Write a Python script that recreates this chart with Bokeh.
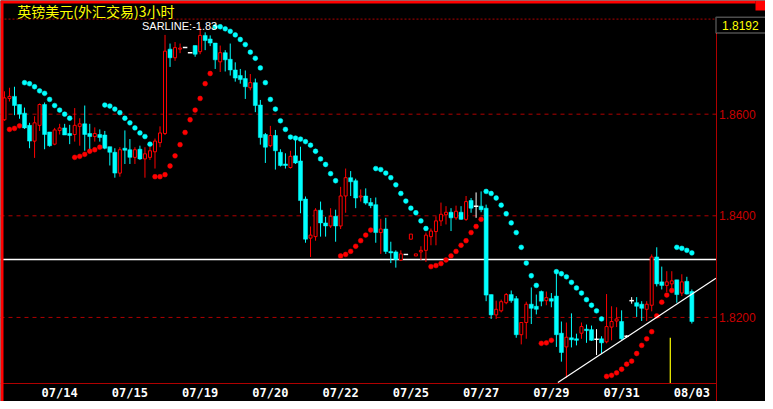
from bokeh.plotting import figure
from bokeh.models import (Range1d, FixedTicker, NumeralTickFormatter, Label,
                          BoxAnnotation, ColumnDataSource)
from bokeh.embed import file_html
from bokeh.resources import INLINE

# ---------------- data (GBP/USD, 3-hour bars) ----------------
opens = [
    1.8589, 1.8631, 1.8635, 1.8619, 1.8602, 1.8578, 1.8547, 1.8578, 1.8619, 1.8565,
    1.8541, 1.8568, 1.8573, 1.8562, 1.8560, 1.8576, 1.8581, 1.8562, 1.8556, 1.8560,
    1.8559, 1.8536, 1.8525, 1.8484, 1.8533, 1.8530, 1.8515, 1.8531, 1.8512, 1.8515,
    1.8526, 1.8544, 1.8562, 1.8728, 1.8711, 1.8728, 1.8731, 1.8721, 1.8735, 1.8723,
    1.8755, 1.8748, 1.8740, 1.8703, 1.8721, 1.8708, 1.8687, 1.8676, 1.8670, 1.8652,
    1.8662, 1.8618, 1.8560, 1.8538, 1.8558, 1.8525, 1.8502, 1.8495, 1.8518, 1.8508,
    1.8433, 1.8356, 1.8359, 1.8411, 1.8386, 1.8380, 1.8399, 1.8380, 1.8439, 1.8475,
    1.8469, 1.8437, 1.8439, 1.8426, 1.8422, 1.8367, 1.8374, 1.8330, 1.8329, 1.8313,
    1.8324, 1.8354, 1.8321, 1.8329, 1.8332, 1.8359, 1.8369, 1.8390, 1.8402, 1.8407,
    1.8396, 1.8407, 1.8393, 1.8430, 1.8419, 1.8419, 1.8415, 1.8245, 1.8205, 1.8213,
    1.8229, 1.8245, 1.8237, 1.8166, 1.8190, 1.8226, 1.8222, 1.8251, 1.8233, 1.8237,
    1.8242, 1.8169, 1.8142, 1.8160, 1.8158, 1.8169, 1.8177, 1.8176, 1.8157, 1.8158,
    1.8152, 1.8181, 1.8193, 1.8192, 1.8163, 1.8233, 1.8229, 1.8226, 1.8216, 1.8224,
    1.8319, 1.8270, 1.8263, 1.8266, 1.8274, 1.8248, 1.8271, 1.8251]
closes = [
    1.8632, 1.8635, 1.8617, 1.8600, 1.8573, 1.8547, 1.8583, 1.8619, 1.8560, 1.8538,
    1.8569, 1.8573, 1.8559, 1.8558, 1.8578, 1.8581, 1.8560, 1.8556, 1.8562, 1.8554,
    1.8533, 1.8525, 1.8484, 1.8530, 1.8529, 1.8515, 1.8530, 1.8512, 1.8522, 1.8528,
    1.8547, 1.8563, 1.8724, 1.8711, 1.8731, 1.8730, 1.8731, 1.8721, 1.8718, 1.8755,
    1.8745, 1.8740, 1.8707, 1.8721, 1.8707, 1.8687, 1.8671, 1.8668, 1.8654, 1.8662,
    1.8617, 1.8554, 1.8535, 1.8558, 1.8528, 1.8499, 1.8499, 1.8517, 1.8504, 1.8430,
    1.8354, 1.8362, 1.8411, 1.8386, 1.8380, 1.8399, 1.8380, 1.8439, 1.8475, 1.8467,
    1.8435, 1.8439, 1.8425, 1.8420, 1.8367, 1.8374, 1.8330, 1.8327, 1.8314, 1.8325,
    1.8324, 1.8364, 1.8325, 1.8332, 1.8362, 1.8370, 1.8390, 1.8403, 1.8407, 1.8396,
    1.8409, 1.8393, 1.8428, 1.8415, 1.8419, 1.8412, 1.8244, 1.8205, 1.8216, 1.8231,
    1.8245, 1.8233, 1.8166, 1.8190, 1.8226, 1.8218, 1.8216, 1.8232, 1.8239, 1.8232,
    1.8166, 1.8131, 1.8161, 1.8156, 1.8155, 1.8182, 1.8174, 1.8155, 1.8157, 1.8150,
    1.8182, 1.8192, 1.8197, 1.8158, 1.8163, 1.8233, 1.8222, 1.8218, 1.8226, 1.8319,
    1.8266, 1.8263, 1.8270, 1.8272, 1.8245, 1.8270, 1.8246, 1.8192]
highs = [
    1.8645, 1.8652, 1.8654, 1.8619, 1.8613, 1.8583, 1.8596, 1.8621, 1.8623, 1.8565,
    1.8573, 1.8581, 1.8581, 1.8579, 1.8612, 1.8592, 1.8617, 1.8581, 1.8574, 1.8570,
    1.8567, 1.8536, 1.8533, 1.8535, 1.8568, 1.8551, 1.8535, 1.8538, 1.8535, 1.8536,
    1.8552, 1.8576, 1.8756, 1.8739, 1.8742, 1.8739, 1.8731, 1.8721, 1.8735, 1.8771,
    1.8761, 1.8755, 1.8740, 1.8735, 1.8726, 1.8739, 1.8702, 1.8689, 1.8686, 1.8679,
    1.8670, 1.8628, 1.8563, 1.8577, 1.8569, 1.8531, 1.8523, 1.8528, 1.8551, 1.8536,
    1.8438, 1.8379, 1.8415, 1.8428, 1.8398, 1.8415, 1.8412, 1.8457, 1.8493, 1.8488,
    1.8473, 1.8452, 1.8454, 1.8435, 1.8436, 1.8394, 1.8396, 1.8349, 1.8332, 1.8332,
    1.8324, 1.8364, 1.8325, 1.8340, 1.8367, 1.8375, 1.8399, 1.8426, 1.8419, 1.8415,
    1.8420, 1.8419, 1.8439, 1.8435, 1.8446, 1.8448, 1.8422, 1.8245, 1.8233, 1.8235,
    1.8248, 1.8253, 1.8242, 1.8190, 1.8231, 1.8259, 1.8245, 1.8253, 1.8251, 1.8248,
    1.8291, 1.8192, 1.8190, 1.8208, 1.8168, 1.8190, 1.8186, 1.8184, 1.8177, 1.8163,
    1.8246, 1.8222, 1.8220, 1.8214, 1.8165, 1.8240, 1.8240, 1.8232, 1.8232, 1.8324,
    1.8338, 1.8300, 1.8291, 1.8291, 1.8274, 1.8285, 1.8280, 1.8255]
lows = [
    1.8587, 1.8625, 1.8598, 1.8591, 1.8571, 1.8533, 1.8514, 1.8567, 1.8531, 1.8536,
    1.8539, 1.8560, 1.8559, 1.8541, 1.8546, 1.8538, 1.8528, 1.8528, 1.8546, 1.8546,
    1.8531, 1.8499, 1.8475, 1.8477, 1.8502, 1.8502, 1.8502, 1.8510, 1.8475, 1.8510,
    1.8493, 1.8535, 1.8559, 1.8693, 1.8705, 1.8720, 1.8731, 1.8721, 1.8713, 1.8718,
    1.8726, 1.8734, 1.8689, 1.8683, 1.8684, 1.8676, 1.8664, 1.8660, 1.8630, 1.8647,
    1.8604, 1.8540, 1.8504, 1.8535, 1.8491, 1.8497, 1.8493, 1.8493, 1.8502, 1.8405,
    1.8347, 1.8319, 1.8351, 1.8359, 1.8359, 1.8376, 1.8349, 1.8374, 1.8406, 1.8439,
    1.8415, 1.8428, 1.8422, 1.8415, 1.8347, 1.8325, 1.8325, 1.8307, 1.8298, 1.8311,
    1.8324, 1.8354, 1.8321, 1.8313, 1.8309, 1.8342, 1.8342, 1.8380, 1.8383, 1.8370,
    1.8392, 1.8392, 1.8390, 1.8406, 1.8396, 1.8407, 1.8232, 1.8197, 1.8197, 1.8210,
    1.8226, 1.8229, 1.8160, 1.8147, 1.8158, 1.8187, 1.8206, 1.8222, 1.8224, 1.8220,
    1.8142, 1.8113, 1.8081, 1.8141, 1.8145, 1.8158, 1.8150, 1.8154, 1.8126, 1.8129,
    1.8149, 1.8155, 1.8181, 1.8156, 1.8160, 1.8227, 1.8201, 1.8193, 1.8193, 1.8212,
    1.8261, 1.8255, 1.8250, 1.8258, 1.8229, 1.8242, 1.8245, 1.8188]
sar = [
    None,   1.8570, 1.8572, 1.8577, 1.8662, 1.8660, 1.8654, 1.8646, 1.8641, 1.8629,
    1.8617, 1.8608, 1.8600, 1.8592, 1.8515, 1.8517, 1.8521, 1.8527, 1.8530, 1.8535,
    1.8618, 1.8616, 1.8610, 1.8603, 1.8592, 1.8583, 1.8573, 1.8563, 1.8556, 1.8541,
    1.8477, 1.8477, 1.8481, 1.8498, 1.8518, 1.8540, 1.8564, 1.8589, 1.8608, 1.8631,
    1.8660, 1.8680, 1.8772, 1.8772, 1.8768, 1.8763, 1.8756, 1.8747, 1.8737, 1.8722,
    1.8710, 1.8691, 1.8662, 1.8629, 1.8610, 1.8587, 1.8570, 1.8555, 1.8553, 1.8551,
    1.8546, 1.8539, 1.8527, 1.8512, 1.8501, 1.8483, 1.8469, 1.8321, 1.8324, 1.8330,
    1.8340, 1.8351, 1.8362, 1.8372, 1.8493, 1.8491, 1.8484, 1.8475, 1.8461, 1.8444,
    1.8429, 1.8415, 1.8406, 1.8390, 1.8375, 1.8300, 1.8302, 1.8306, 1.8313, 1.8321,
    1.8330, 1.8342, 1.8351, 1.8367, 1.8379, 1.8393, 1.8448, 1.8444, 1.8435, 1.8421,
    1.8404, 1.8386, 1.8367, 1.8338, 1.8307, 1.8282, 1.8263, 1.8149, 1.8150, 1.8155,
    1.8290, 1.8286, 1.8280, 1.8269, 1.8258, 1.8248, 1.8235, 1.8224, 1.8213, 1.8197,
    1.8084, 1.8086, 1.8091, 1.8098, 1.8108, 1.8114, 1.8129, 1.8145, 1.8158, 1.8172,
    1.8203, 1.8230, 1.8244, 1.8253, 1.8338, 1.8336, 1.8332, 1.8327]
date_labels = ["07/14", "07/15", "07/19", "07/20", "07/22",
               "07/25", "07/27", "07/29", "07/31", "08/03"]
grid_levels = [1.82, 1.84, 1.86]
ref_level = 1.8314                 # white horizontal line
trend_x = [110.3, 141.8]           # white trend line (bar index, price)
trend_y = [1.8072, 1.8277]
marker_x = 132.7                   # yellow vertical marker
marker_top = 1.8160
sar_value_text = "SARLINE:-1.83"
title_text = "英镑美元(外汇交易)3小时"

# ---------------- layout (the frame covers the whole canvas) ----------------
W, H = 765, 401
BAR_PX = 5.0175                    # pixels per bar
FIRST_BAR_PX = 3.96                # x pixel of bar 0
CHART_RIGHT_PX = 715.5             # right edge of the chart area
CHART_TOP_PX, CHART_BOTTOM_PX = 18.6, 383.3
Y_TOP, Y_MIN = 1.87871, 1.80694    # prices at the chart top / bottom
PPX = (Y_TOP - Y_MIN) / (CHART_BOTTOM_PX - CHART_TOP_PX)
X0 = -FIRST_BAR_PX / BAR_PX
X1 = X0 + W / BAR_PX
X_RIGHT = X0 + CHART_RIGHT_PX / BAR_PX
Y1 = Y_TOP + CHART_TOP_PX * PPX
Y0 = Y_MIN - (H - CHART_BOTTOM_PX) * PPX

DARK_RED = "#B00000"
RED = "#FF0000"
CYAN = "#00FFFF"
YELLOW = "#FFFF00"

n = len(opens)
xs = list(range(n))

p = figure(width=W, height=H, frame_width=W, frame_height=H,
           output_backend="svg", toolbar_location=None,
           x_range=Range1d(X0, X1), y_range=Range1d(Y0, Y1),
           y_axis_location="right",
           background_fill_color="black", border_fill_color="black",
           min_border_left=0, min_border_right=0,
           min_border_top=0, min_border_bottom=0)
p.outline_line_color = None
p.xgrid.visible = False
p.ygrid.visible = False

# right price axis, drawn at the chart's right edge
ya = p.yaxis[0]
ya.fixed_location = X_RIGHT
ya.bounds = (Y0, Y_TOP)
ya.ticker = FixedTicker(ticks=grid_levels)
ya.formatter = NumeralTickFormatter(format="0.0000")
ya.major_label_text_color = "#C80000"
ya.major_label_text_font = "Liberation Sans"
ya.major_label_text_font_size = "12px"
ya.major_tick_line_color = None
ya.major_tick_out = 0
ya.major_tick_in = 0
ya.minor_tick_line_color = None
ya.minor_tick_out = 0
ya.axis_line_color = DARK_RED
ya.major_label_standoff = 3

# bottom date axis, drawn at the chart's bottom edge
tick_pos = [11 + 14 * k for k in range(len(date_labels))]
xa = p.xaxis[0]
xa.fixed_location = Y_MIN
xa.bounds = (X0, X_RIGHT)
xa.ticker = FixedTicker(ticks=tick_pos)
xa.major_label_overrides = {t: lab for t, lab in zip(tick_pos, date_labels)}
xa.major_label_text_color = "white"
xa.major_label_text_font = "DejaVu Sans Mono"
xa.major_label_text_font_style = "bold"
xa.major_label_text_font_size = "12px"
xa.major_tick_line_color = None
xa.major_tick_out = 0
xa.major_tick_in = 0
xa.minor_tick_line_color = None
xa.minor_tick_out = 0
xa.axis_line_color = DARK_RED
xa.major_label_standoff = 2

# dashed price grid, title-row separator and white reference line
p.segment(x0=[X0] * len(grid_levels), x1=[X_RIGHT] * len(grid_levels),
          y0=grid_levels, y1=grid_levels, line_color=DARK_RED, line_dash="4 4", line_width=1)
p.segment(x0=[X0], x1=[X_RIGHT], y0=[Y_TOP], y1=[Y_TOP],
          line_color=DARK_RED, line_dash="2 2", line_width=1)
p.segment(x0=[X0], x1=[X_RIGHT], y0=[ref_level], y1=[ref_level],
          line_color="white", line_width=1.5)

# ---------------- candles ----------------
colors = []
for o, c in zip(opens, closes):
    colors.append(RED if c > o else (CYAN if c < o else "white"))
src = ColumnDataSource(dict(x=xs, o=opens, c=closes, h=highs, l=lows, color=colors))
p.segment(x0="x", y0="h", x1="x", y1="l", line_color="color", line_width=1, source=src)

up = [i for i in range(n) if closes[i] > opens[i]]
dn = [i for i in range(n) if closes[i] < opens[i]]
dj = [i for i in range(n) if closes[i] == opens[i]]
p.vbar(x=[xs[i] for i in dn], width=0.8, top=[opens[i] for i in dn],
       bottom=[closes[i] for i in dn], fill_color=CYAN, line_color=CYAN, line_width=0.5)
p.vbar(x=[xs[i] for i in up], width=0.6, top=[closes[i] for i in up],
       bottom=[opens[i] for i in up], fill_color="black", line_color=RED, line_width=1)
p.segment(x0=[xs[i] - 0.45 for i in dj], y0=[closes[i] for i in dj],
          x1=[xs[i] + 0.45 for i in dj], y1=[closes[i] for i in dj],
          line_color="white", line_width=1.5)

# ---------------- SAR dots ----------------
sx, sy, sc = [], [], []
for i, s in enumerate(sar):
    if s is None:
        continue
    sx.append(xs[i]); sy.append(s)
    sc.append(RED if s <= lows[i] else CYAN)
p.scatter(sx, sy, marker="circle", size=4.8, fill_color=sc, line_color=sc, line_width=0.5)

# trend line and yellow marker
p.line(trend_x, trend_y, line_color="white", line_width=1.2)
p.segment(x0=[marker_x], y0=[Y_MIN], x1=[marker_x], y1=[marker_top],
          line_color=YELLOW, line_width=1.2)

# ---------------- window decorations (screen px, origin bottom-left) ----------------
def sbox(left, right, bottom, top, **kw):
    return BoxAnnotation(left=left, right=right, bottom=bottom, top=top,
                         left_units="screen", right_units="screen",
                         bottom_units="screen", top_units="screen", **kw)

p.add_layout(sbox(0, 3, 0, H, fill_color=RED, fill_alpha=1, line_color=None))
p.add_layout(sbox(0, W - 10, H - 3, H, fill_color=RED, fill_alpha=1, line_color=None))
p.add_layout(sbox(W - 10, W, H - 10, H, fill_color=RED, fill_alpha=1, line_color=None))
p.add_layout(sbox(CHART_RIGHT_PX, W + 2, H - 32.4, H - 16.7,
                  fill_color="black", fill_alpha=1, line_color="white", line_width=1.5))

p.add_layout(Label(x=16.8, y=H - 10.6, x_units="screen", y_units="screen",
                   text=title_text, text_color=YELLOW, text_font="Noto Sans CJK SC",
                   text_font_size="14px", text_baseline="middle"))
p.add_layout(Label(x=141.5, y=H - 25.5, x_units="screen", y_units="screen",
                   text=sar_value_text, text_color="white", text_font="Liberation Sans",
                   text_font_size="11px", text_baseline="middle"))
p.add_layout(Label(x=CHART_RIGHT_PX + 6, y=H - 24.5, x_units="screen", y_units="screen",
                   text=f"{closes[-1]:.4f}", text_color=YELLOW, text_font="Liberation Sans",
                   text_font_size="12px", text_baseline="middle"))

open("out.html", "w").write(file_html(p, INLINE))
